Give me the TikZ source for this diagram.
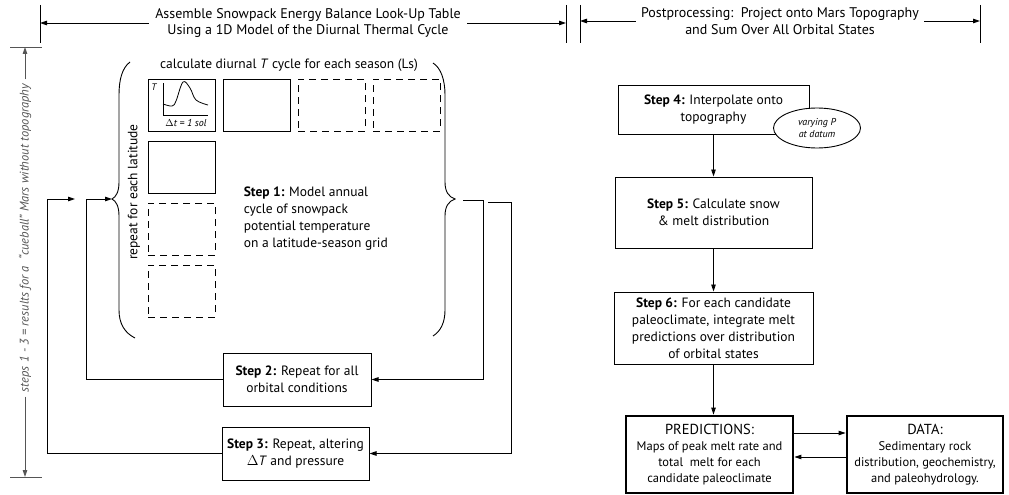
\documentclass[tikz,border=0pt]{standalone}
\usepackage{fontspec}
\setmainfont{PT Sans}
\usetikzlibrary{arrows.meta,shapes.geometric}

\definecolor{dimgray}{HTML}{555555}
\tikzset{
  arr/.style={-{Triangle[length=7pt,width=4.5pt]}},
  stepbox/.style={draw, line width=1pt, align=center, inner sep=2pt},
  bigbox/.style={draw, line width=2.8pt, align=center, inner sep=2pt, font=\fontsize{12.5}{16}\selectfont},
  latcell/.style={draw, line width=1pt, minimum width=67pt, minimum height=52pt},
  celldash/.style={dash pattern=on 7pt off 5pt},
}

\begin{document}
\begin{tikzpicture}[x=1pt,y=-1pt,line width=0.9pt,font=\fontsize{13.5}{17}\selectfont]
\useasboundingbox (0,0) rectangle (1009,495);

% headings
\draw (40,5) -- (40,43);
\draw (566,5) -- (566,43);
\draw (580,5) -- (580,43);
\draw (980,5) -- (980,43);
\coordinate (barL) at (40,23);
\coordinate (barM) at (566,23);
\coordinate (barN) at (580,23);
\coordinate (barR) at (980,23);
\node[align=center, inner sep=6pt, font=\fontsize{14}{17}\selectfont] (head1) at (308,23) {Assemble Snowpack Energy Balance Look-Up Table\\Using a 1D Model of the Diurnal Thermal Cycle};
\node[align=center, inner sep=5pt, font=\fontsize{14}{17}\selectfont] (head2) at (780,21) {Postprocessing:\ \ Project onto Mars Topography\\and Sum Over All Orbital States};
\draw[arr] (head1.west) -- (head1.west -| barL);
\draw[arr] (head1.east) -- (head1.east -| barM);
\draw[arr] (head2.west) -- (head2.west -| barN);
\draw[arr] (head2.east) -- (head2.east -| barR);

% steps 1-3 span
\node[rotate=90, text=dimgray, font=\fontsize{12.5}{14}\selectfont\itshape, inner sep=4pt] (dimtxt) at (25,238) {steps 1 - 3 = results for a \ ``cueball'' Mars without topography};
\coordinate (dimtop) at (25,47);
\coordinate (dimbot) at (25,477);
\draw[arr, dimgray] (dimtxt.east) -- (dimtop);
\draw[arr, dimgray] (dimtxt.west) -- (dimbot);
\draw[dimgray] (10,47) -- (42,47);
\draw[dimgray] (10,477) -- (42,477);

% latitude-season grid
\foreach \r/\c/\sty in {1/1/solid,1/2/solid,1/3/celldash,1/4/celldash,2/1/solid,3/1/celldash,4/1/celldash}
  \node[latcell,\sty] (cell-\r-\c) at ({181.5+75*(\c-1)},{105+62*(\r-1)}) {};
\node[font=\fontsize{9.5}{10}\selectfont\itshape, inner sep=0pt] (tlab) at (154,87) {T};
\draw[line width=0.8pt] (163,83) -- (163,115) -- (208,115);
\draw[line width=0.8pt] plot[smooth, tension=0.6] coordinates {(163,104) (172,106) (176,101) (183,82) (190,88) (196,100) (208,105)};
\node[font=\fontsize{10}{10}\selectfont\itshape, inner sep=0pt] (dtlab) at (186,123) {$\Delta$t = 1 sol};

\node (seasons) at (289,65) {calculate diurnal \textit{T} cycle for each season (Ls)};
\node[rotate=90] (lats) at (134,192) {repeat for each latitude};
\node[anchor=west, align=left] (step1) at (240,218.5) {\textbf{Step 1:} Model annual\\cycle of snowpack\\potential temperature\\on a latitude-season grid};

% braces
\draw (130,62) .. controls (122,68) and (119,80) .. (119,95) -- (119,182)
  .. controls (119,192) and (116,197) .. (112,199)
  .. controls (116,201) and (119,206) .. (119,216) -- (119,310)
  .. controls (119,324) and (125,333) .. (135,338);
\draw (433,63) .. controls (441,68) and (445,80) .. (445,95) -- (445,182)
  .. controls (445,192) and (449,197) .. (455,199)
  .. controls (449,201) and (445,206) .. (445,216) -- (445,310)
  .. controls (445,322) and (441,331) .. (433,336);

% repeat loops
\node[stepbox, minimum width=148pt, minimum height=53pt] (step2) at (297,379.5) {\textbf{Step 2:} Repeat for all\\orbital conditions};
\node[stepbox, minimum width=147pt, minimum height=53pt] (step3) at (295.5,453.5) {\textbf{Step 3:} Repeat, altering\\$\Delta$\textit{T} and pressure};
\coordinate (lbtip) at (112,199);
\coordinate (inner) at (86,199);
\coordinate (outer) at (47,199);
\coordinate (outerend) at (75,199);
\draw[arr] (step2.west) -| (inner) -- (lbtip);
\draw[arr] (step3.west) -| (outer) -- (outerend);
\coordinate (r2a) at (463,200);
\coordinate (r2b) at (483,200);
\coordinate (r3a) at (488,202);
\coordinate (r3b) at (511,202);
\draw[arr] (r2a) -- (r2b) |- (step2.east);
\draw[arr] (r3a) -- (r3b) |- (step3.east);

% postprocessing
\node[stepbox, minimum width=191pt, minimum height=49pt] (step4) at (713.5,109.5) {\textbf{Step 4:} Interpolate onto\\topography};
\node[draw, ellipse, fill=white, line width=0.9pt, minimum width=87pt, minimum height=40pt, inner sep=0pt, align=center, font=\fontsize{10}{12.5}\selectfont\itshape] (datum) at (817,128) {varying P\\at datum};
\node[stepbox, minimum width=197pt, minimum height=71pt] (step5) at (713.5,212.5) {\textbf{Step 5:} Calculate snow\\\& melt distribution};
\node[stepbox, minimum width=199pt, minimum height=72pt] (step6) at (713.5,328) {\textbf{Step 6:} For each candidate\\paleoclimate, integrate melt\\predictions over distribution\\of orbital states};
\node[bigbox, minimum width=167pt, minimum height=77pt] (pred) at (709.5,454.5) {{\fontsize{14.5}{16}\selectfont PREDICTIONS:}\\Maps of peak melt rate and\\total\ \ melt for each\\candidate paleoclimate};
\node[bigbox, minimum width=156pt, minimum height=77pt] (data) at (925,454.5) {{\fontsize{14.5}{16}\selectfont DATA:}\\Sedimentary rock\\distribution, geochemistry,\\and paleohydrology.};
\draw[arr] (step4) -- (step5);
\draw[arr] (step5) -- (step6);
\draw[arr] (step6.south) -- (step6.south |- pred.north);
\draw[arr] ([yshift=21.5pt]pred.east) -- ([yshift=21.5pt]data.west);
\draw[arr] ([yshift=-2.5pt]data.west) -- ([yshift=-2.5pt]pred.east);
\end{tikzpicture}
\end{document}
